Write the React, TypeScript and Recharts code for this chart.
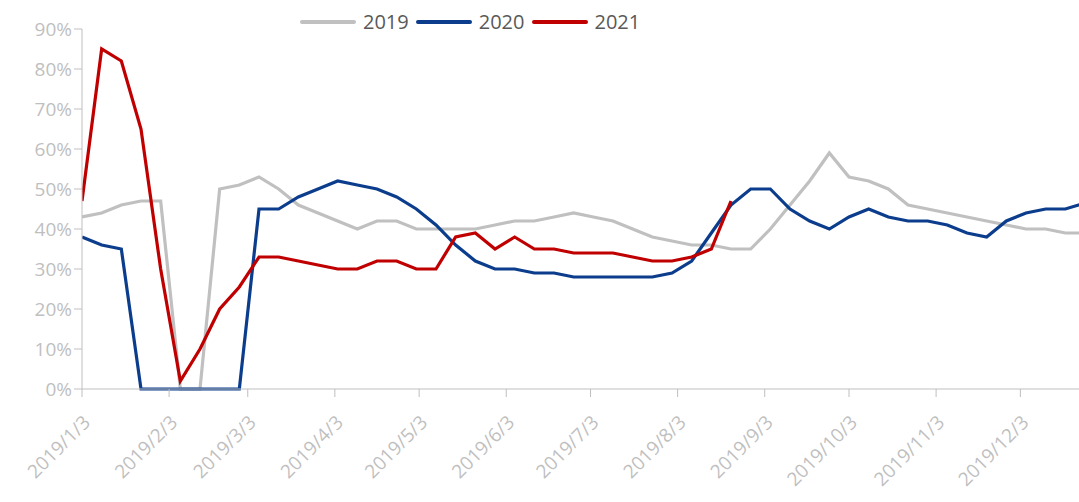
import { LineChart, Line, XAxis, YAxis, Legend } from 'recharts'

// weekly observation dates (all plotted on a 2019 calendar)
const weeks = [
  '2019/1/3', '2019/1/10', '2019/1/17', '2019/1/24', '2019/1/31',
  '2019/2/7', '2019/2/14', '2019/2/21', '2019/2/28',
  '2019/3/7', '2019/3/14', '2019/3/21', '2019/3/28',
  '2019/4/4', '2019/4/11', '2019/4/18', '2019/4/25',
  '2019/5/2', '2019/5/9', '2019/5/16', '2019/5/23', '2019/5/30',
  '2019/6/6', '2019/6/13', '2019/6/20', '2019/6/27',
  '2019/7/4', '2019/7/11', '2019/7/18', '2019/7/25',
  '2019/8/1', '2019/8/8', '2019/8/15', '2019/8/22', '2019/8/29',
  '2019/9/5', '2019/9/12', '2019/9/19', '2019/9/26',
  '2019/10/3', '2019/10/10', '2019/10/17', '2019/10/24', '2019/10/31',
  '2019/11/7', '2019/11/14', '2019/11/21', '2019/11/28',
  '2019/12/5', '2019/12/12', '2019/12/19', '2019/12/26',
]

// values in %
const s2019 = [
  43, 44, 46, 47, 47, 0, 0, 50, 51, 53, 50, 46, 44, 42, 40, 42, 42, 40, 40, 40,
  40, 41, 42, 42, 43, 44, 43, 42, 40, 38, 37, 36, 36, 35, 35, 40, 46, 52, 59, 53,
  52, 50, 46, 45, 44, 43, 42, 41, 40, 40, 39, 39,
]
const s2020 = [
  38, 36, 35, 0, 0, 0, 0, 0, 0, 45, 45, 48, 50, 52, 51, 50, 48, 45, 41, 36,
  32, 30, 30, 29, 29, 28, 28, 28, 28, 28, 29, 32, 39, 46, 50, 50, 45, 42, 40, 43,
  45, 43, 42, 42, 41, 39, 38, 42, 44, 45, 45, 46.5,
]
const s2021 = [
  47, 85, 82, 65, 30, 2, 10, 20, 25.5, 33, 33, 32, 31, 30, 30, 32, 32, 30, 30, 38,
  39, 35, 38, 35, 35, 34, 34, 34, 33, 32, 32, 33, 35, 47,
]

const monthLabels = [
  '2019/1/3', '2019/2/3', '2019/3/3', '2019/4/3', '2019/5/3', '2019/6/3',
  '2019/7/3', '2019/8/3', '2019/9/3', '2019/10/3', '2019/11/3', '2019/12/3',
]
const yTicks = [0, 10, 20, 30, 40, 50, 60, 70, 80, 90]

const toDay = (s: string) => {
  const [y, m, d] = s.split('/').map(Number)
  return (Date.UTC(y, m - 1, d) - Date.UTC(2019, 0, 3)) / 86400000
}

const data = weeks.map((w, i) => ({
  day: toDay(w),
  y2019: s2019[i],
  y2020: s2020[i],
  y2021: i < s2021.length ? s2021[i] : null,
}))

const monthTicks = monthLabels.map(toDay)
const labelFor: Record<number, string> = {}
monthLabels.forEach((l) => (labelFor[toDay(l)] = l))

const axisColor = '#BFBFBF'
const font = '"Open Sans", "Noto Sans", sans-serif'

function LegendContent({ payload }: any) {
  return (
    <div style={{ display: 'flex', alignItems: 'center', marginLeft: 300, fontFamily: font }}>
      {(payload || []).map((p: any) => (
        <div key={p.value} style={{ display: 'flex', alignItems: 'center', marginRight: 7 }}>
          <div style={{ width: 56, height: 4, background: p.color, borderRadius: 2, marginRight: 7 }} />
          <span style={{ fontSize: 20, color: '#595959', lineHeight: '24px' }}>{p.value}</span>
        </div>
      ))}
    </div>
  )
}

export default function App() {
  return (
    <div style={{ position: 'absolute', left: 0, top: 0, width: 1079, height: 502, overflow: 'hidden', background: '#fff' }}>
      <LineChart width={1090} height={502} data={data} margin={{ top: 29, right: 5, bottom: 23, left: 0 }}>
        <XAxis
          dataKey="day"
          type="number"
          domain={[0, 357]}
          ticks={monthTicks}
          tickFormatter={(v: number) => labelFor[v] ?? ''}
          interval={0}
          height={90}
          stroke={axisColor}
          tickSize={8}
          tickMargin={17}
          tickLine={{ stroke: axisColor }}
          tick={{ fill: axisColor, fontSize: 19, fontFamily: font, angle: -45, textAnchor: 'end' }}
          allowDataOverflow
        />
        <YAxis
          type="number"
          domain={[0, 90]}
          ticks={yTicks}
          interval={0}
          width={82}
          stroke={axisColor}
          tickSize={8}
          tickFormatter={(v: number) => `${v}%`}
          tick={{ fill: axisColor, fontSize: 19, fontFamily: font }}
        />
        <Legend
          verticalAlign="middle"
          content={<LegendContent />}
          wrapperStyle={{ top: 10, left: 0, width: 1000 }}
        />
        <Line dataKey="y2019" name="2019" stroke="#C0C0C0" strokeWidth={3.2} dot={false} isAnimationActive={false} />
        <Line dataKey="y2020" name="2020" stroke="#0B3D8C" strokeWidth={3.2} dot={false} isAnimationActive={false} />
        <Line dataKey="y2021" name="2021" stroke="#C00000" strokeWidth={3.2} dot={false} isAnimationActive={false} />
      </LineChart>
    </div>
  )
}
